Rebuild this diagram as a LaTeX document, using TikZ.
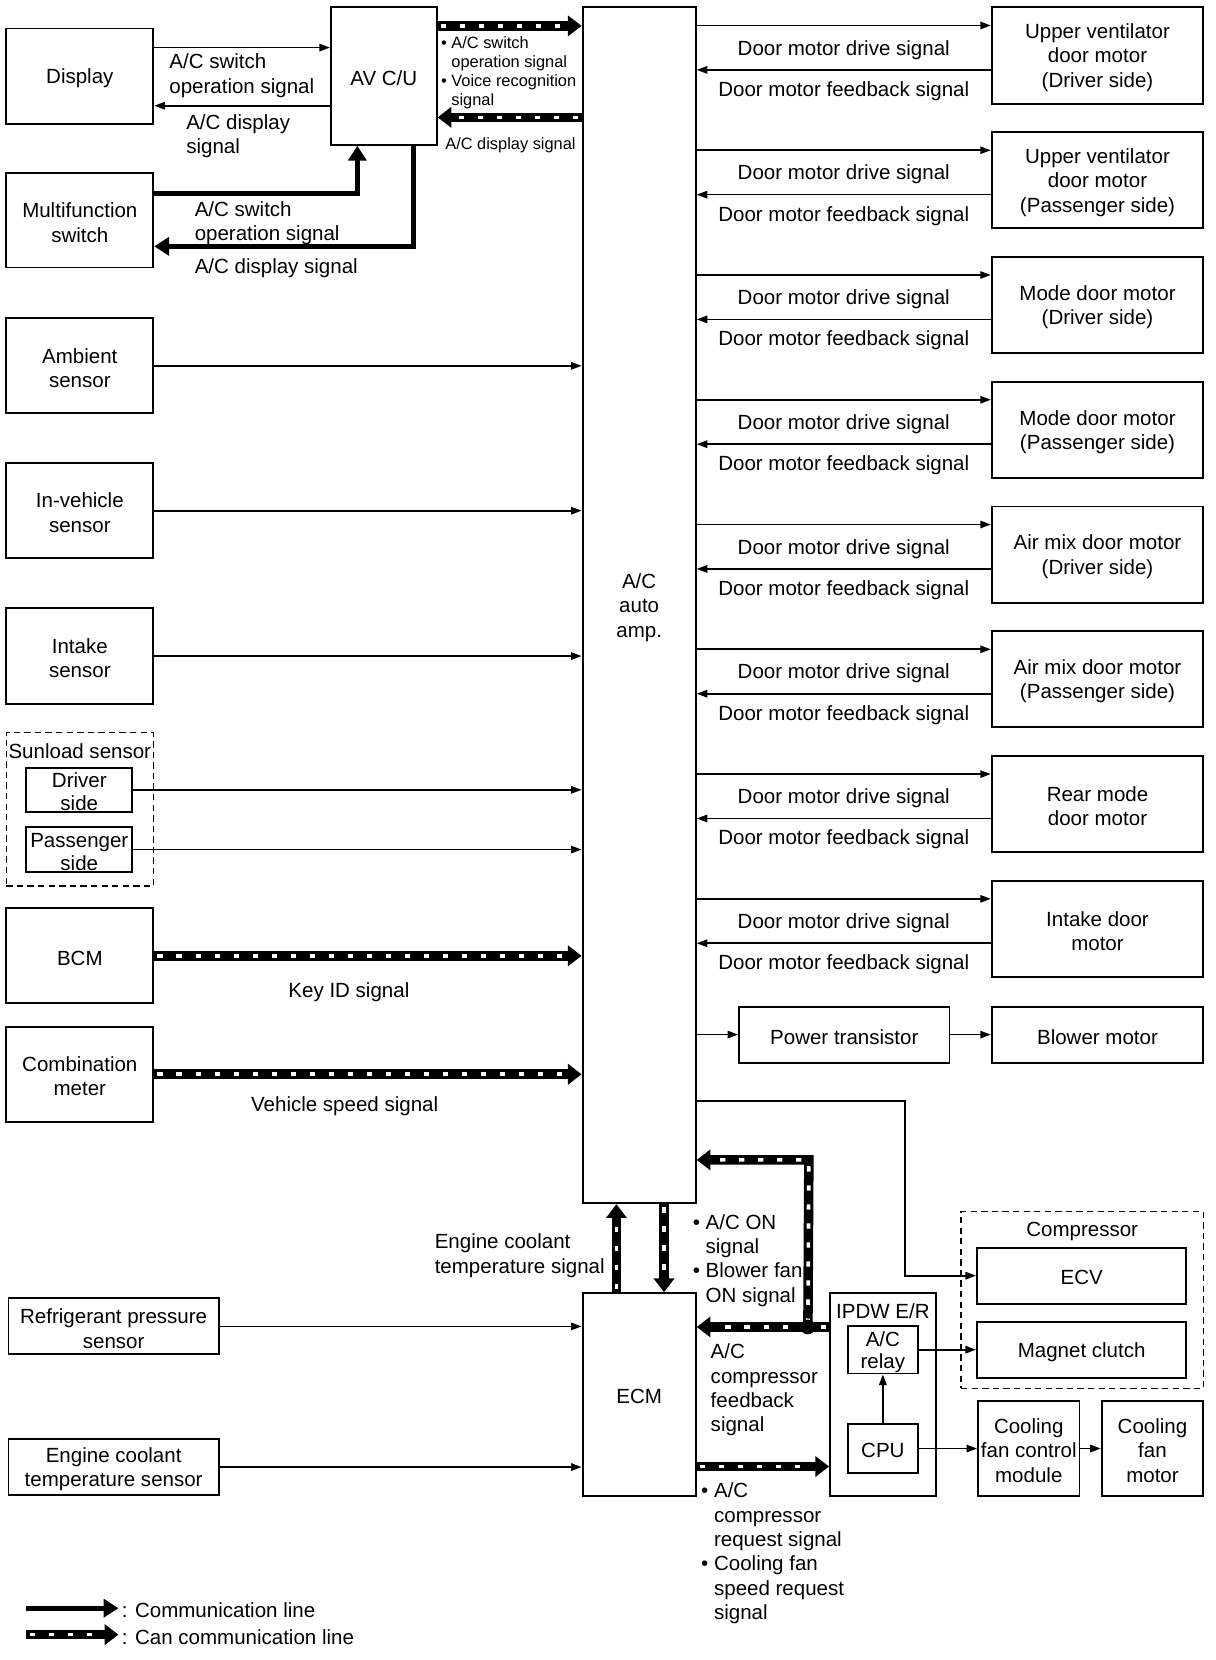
\documentclass[tikz,border=0pt]{standalone}
\usepackage{fontspec}
\setmainfont{Liberation Sans}
\usetikzlibrary{arrows.meta,calc}
\newcommand\bx[6]{\node[blk, minimum width={(#4-#2)*1pt}, minimum height={(#5-#3)*1pt}, label={[boxtxt]center:{#6}}] (#1) at ({(#2+#4)/2},{(#3+#5)/2}) {};}
\newcommand\canpath[1]{\draw[canb] #1; \draw[cand] #1;}
\newcommand\bul{\textbullet\ }
\newcommand\nob{\hphantom{\textbullet\ }}
\tikzset{
 every node/.style={font=\fontsize{19.4}{23}\selectfont},
 blk/.style={draw, line width=1.8pt, inner sep=0pt, align=center},
 boxtxt/.style={inner sep=0pt, align=center, yshift=-2pt},
 dbox/.style={draw, line width=1.4pt, dash pattern=on 6pt off 4pt, inner sep=0pt},
 lbl/.style={inner sep=0pt, align=left, anchor=west},
 small/.style={font=\fontsize{15.5}{18}\selectfont},
 sig/.style={line width=1.6pt, -{Triangle[length=10pt,width=7pt]}},
 comm/.style={line width=5pt, -{Triangle[length=14pt,width=17pt]}},
 canb/.style={line width=9pt, -{Triangle[length=13pt,width=19pt]}},
 cand/.style={white, line width=3.5pt, dash pattern=on 5pt off 13pt, shorten >=15pt, shorten <=3pt},
}
\begin{document}
\begin{tikzpicture}[x=1pt,y=-1pt]
\useasboundingbox (0,0) rectangle (1150,1570);
% left column
\bx{display}{6}{27}{145}{117}{Display}
\bx{avcu}{313}{7}{413}{137}{AV C/U}
\bx{mfs}{6}{164}{145}{253}{Multifunction\\switch}
\bx{amb}{6}{301}{145}{391}{Ambient\\sensor}
\bx{inv}{6}{438}{145}{528}{In-vehicle\\sensor}
\bx{intk}{6}{575}{145}{666}{Intake\\sensor}
\node[dbox, minimum width=139pt, minimum height=145pt] (sun) at (75.5,765.5) {};
\node[inner sep=0pt, anchor=north] (sunlbl) at ([yshift=-11pt]sun.north) {Sunload sensor};
\bx{sund}{25}{726}{125}{768}{Driver\\[-1pt]side}
\bx{sunp}{25}{782}{125}{825}{Passenger\\[-1pt]side}
\bx{bcm}{6}{859}{145}{949}{BCM}
\bx{comb}{6}{971}{145}{1061}{Combination\\meter}
\bx{refr}{8}{1228}{207}{1281}{Refrigerant pressure\\sensor}
\bx{ect}{8}{1361}{207}{1414}{Engine coolant\\temperature sensor}
% centre
\bx{amp}{551}{7}{658}{1138}{A/C\\auto\\amp.}
\bx{ecm}{551}{1223}{658}{1415}{ECM}
% right column
\bx{m1}{938}{7}{1138}{98}{Upper ventilator\\door motor\\(Driver side)}
\bx{m2}{938}{125}{1138}{216}{Upper ventilator\\door motor\\(Passenger side)}
\bx{m3}{938}{243}{1138}{334}{Mode door motor\\(Driver side)}
\bx{m4}{938}{361}{1138}{452}{Mode door motor\\(Passenger side)}
\bx{m5}{938}{479}{1138}{570}{Air mix door motor\\(Driver side)}
\bx{m6}{938}{597}{1138}{688}{Air mix door motor\\(Passenger side)}
\bx{m7}{938}{715}{1138}{806}{Rear mode\\door motor}
\bx{m8}{938}{833}{1138}{924}{Intake door\\motor}
\bx{pt}{699}{952}{898}{1005}{Power transistor}
\bx{blow}{938}{952}{1138}{1005}{Blower motor}
\node[dbox, minimum width=229pt, minimum height=167pt] (comp) at (1023.5,1229.5) {};
\node[inner sep=0pt, anchor=north] (complbl) at ([yshift=-10pt]comp.north) {Compressor};
\bx{ecv}{924}{1180}{1122}{1233}{ECV}
\bx{mag}{924}{1250}{1122}{1303}{Magnet clutch}
\bx{ipdm}{785}{1223}{885}{1415}{}
\node[inner sep=0pt, anchor=north] (ipdmlbl) at ([yshift=-11pt]ipdm.north) {IPDW E/R};
\bx{relay}{802}{1254}{868}{1299}{A/C\\[-2pt]relay}
\bx{cpu}{802}{1347}{868}{1393}{CPU}
\bx{cfc}{925}{1325}{1021}{1415}{Cooling\\fan control\\module}
\bx{cfm}{1042}{1325}{1138}{1415}{Cooling\\fan\\motor}

% display / AV C/U
\draw[sig] ([yshift=27pt]display.east) -- ([yshift=27pt]display.east -| avcu.west);
\draw[sig] ([yshift=-28pt]display.east -| avcu.west) -- ([yshift=-28pt]display.east);
\node[lbl] (l1) at (160,71.5) {A/C switch\\operation signal};
\node[lbl] (l2) at (176,129) {A/C display\\signal};
% multifunction switch
\draw[comm] ([yshift=25.5pt]mfs.east) -| ([xshift=-25pt]avcu.south);
\draw[comm] ([xshift=28pt]avcu.south) |- ([yshift=-24.5pt]mfs.east);
\node[lbl] (l3) at (184,211) {A/C switch\\operation signal};
\node[lbl] (l4) at (184,254) {A/C display signal};
% AV C/U <-> amp (CAN)
\canpath{([yshift=47.5pt]avcu.east) -- ([yshift=47.5pt]avcu.east -| amp.west)}
\canpath{([yshift=-39pt]avcu.east -| amp.west) -- ([yshift=-39pt]avcu.east)}
\node[lbl, small] (l5) at (417,69) {\bul A/C switch\\\nob operation signal\\\bul Voice recognition\\\nob signal};
\node[lbl, small] (l6) at (421,137) {A/C display signal};
% sensors
\draw[sig] (amb.east) -- (amb.east -| amp.west);
\draw[sig] (inv.east) -- (inv.east -| amp.west);
\draw[sig] (intk.east) -- (intk.east -| amp.west);
\draw[sig] (sund.east) -- (sund.east -| amp.west);
\draw[sig] (sunp.east) -- (sunp.east -| amp.west);
\canpath{(bcm.east) -- (bcm.east -| amp.west)}
\canpath{(comb.east) -- (comb.east -| amp.west)}
\node[inner sep=0pt] (l7) at (330,938) {Key ID signal};
\node[inner sep=0pt] (l8) at (326,1046) {Vehicle speed signal};
\draw[sig] (refr.east) -- (refr.east -| ecm.west);
\draw[sig] (ect.east) -- (ect.east -| ecm.west);
% door motors
\foreach \m in {m1,m2,m3,m4,m5,m6,m7,m8}{
 \draw[sig] ([yshift=-18pt]\m.north west -| amp.east) -- ([yshift=-18pt]\m.north west);
 \draw[sig] ([yshift=-60pt]\m.north west) -- ([yshift=-60pt]\m.north west -| amp.east);
 \path ([yshift=-41pt]\m.north west -| amp.east) -- ([yshift=-41pt]\m.north west) node[midway, inner sep=0pt] (\m-d) {Door motor drive signal};
 \path ([yshift=-80pt]\m.north west -| amp.east) -- ([yshift=-80pt]\m.north west) node[midway, inner sep=0pt] (\m-f) {Door motor feedback signal};
}
% blower
\draw[sig] (pt.west -| amp.east) -- (pt.west);
\draw[sig] (pt.east) -- (blow.west);
% ECV
\coordinate (ev) at (856,1041);
\draw[sig] (ev -| amp.east) -- (ev) |- (ecv.west);
% amp <-> ECM
\canpath{([xshift=-21.5pt]ecm.north) -- ([xshift=-21.5pt]amp.south)}
\canpath{([xshift=23.5pt]amp.south) -- ([xshift=23.5pt]ecm.north)}
\node[lbl] (l9) at (411,1187.5) {Engine coolant\\temperature signal};
\node[lbl] (l10) at (655,1192) {\bul A/C ON\\\nob signal\\\bul Blower fan\\\nob ON signal};
% IPDM <-> ECM / amp
\coordinate (jn) at ([xshift=-20pt,yshift=64pt]ipdm.west);
\coordinate (jt) at (765,1097);
\canpath{([yshift=64pt]ipdm.west) -- ([yshift=64pt]ipdm.west -| ecm.east)}
\canpath{(jn) -- (jt) -- (jt -| amp.east)}
\fill (jn) circle (7pt);
\node[lbl] (l11) at (672,1314.5) {A/C\\compressor\\feedback\\signal};
\canpath{([yshift=-68pt]ecm.east) -- ([yshift=-68pt]ecm.east -| ipdm.west)}
\node[lbl] (l12) at (663,1469) {\bul A/C\\\nob compressor\\\nob request signal\\\bul Cooling fan\\\nob speed request\\\nob signal};
% IPDM internals
\draw[sig] (cpu.north) -- (relay.south);
\draw[sig] (relay.east) -- (relay.east -| mag.west);
\draw[sig] (cpu.east) -- (cpu.east -| cfc.west);
\draw[sig] (cfc.east) -- (cfm.west);
% legend
\coordinate (lg1a) at (25,1521);
\coordinate (lg1b) at (112,1521);
\coordinate (lg2a) at (25,1546);
\coordinate (lg2b) at (112,1546);
\draw[comm] (lg1a) -- (lg1b);
\canpath{(lg2a) -- (lg2b)}
\node[lbl] (lg1) at (115,1523) {: Communication line};
\node[lbl] (lg2) at (115,1548) {: Can communication line};
\end{tikzpicture}
\end{document}
